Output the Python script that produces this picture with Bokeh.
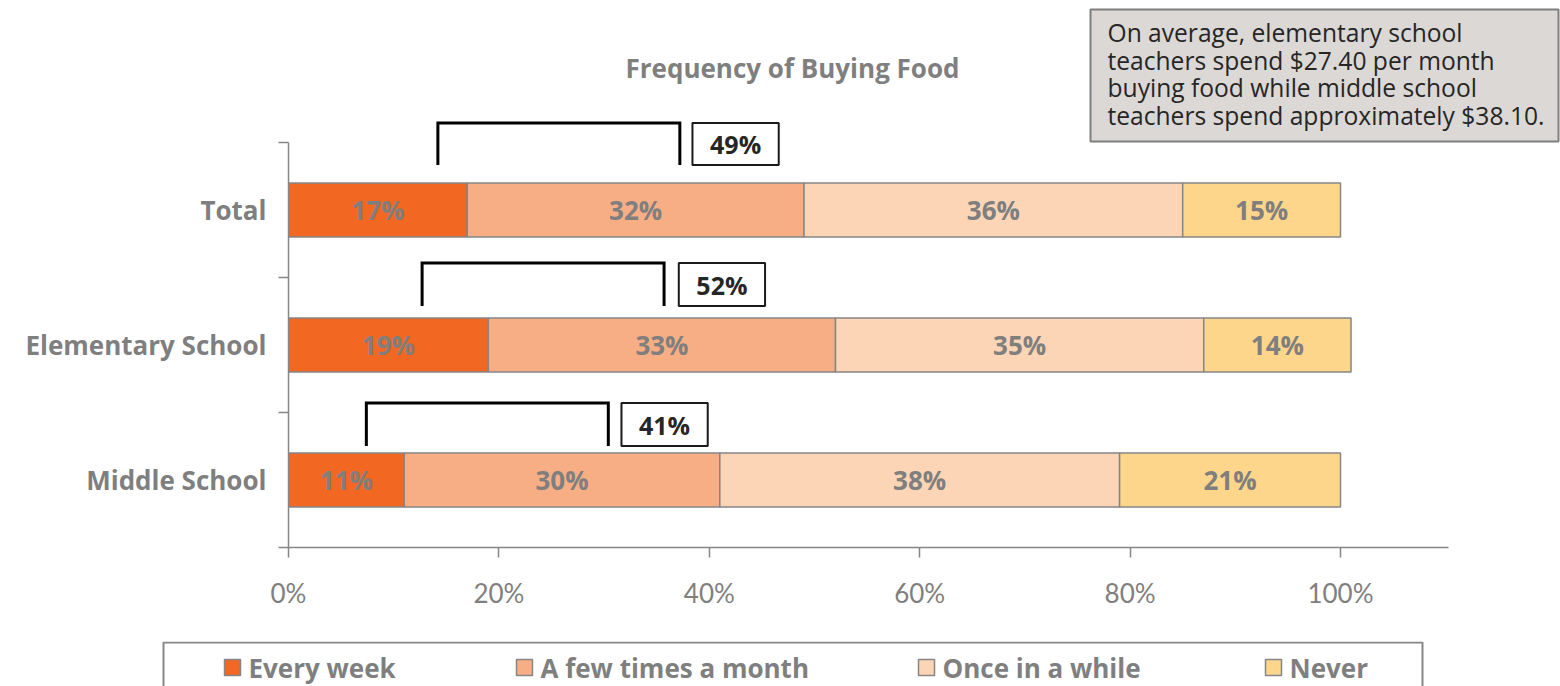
from bokeh.plotting import figure
from bokeh.layouts import column
from bokeh.models import ColumnDataSource, Range1d, FixedTicker, Label
from bokeh.core.properties import value
from bokeh.embed import file_html
from bokeh.resources import INLINE

# ---- data -------------------------------------------------------------
categories = ["Total", "Elementary School", "Middle School"]
every_week = [17, 19, 11]
few_times_month = [32, 33, 30]
once_in_a_while = [36, 35, 38]
never = [15, 14, 21]

series_keys = ["every_week", "few_times_month", "once_in_a_while", "never"]
series_names = ["Every week", "A few times a month", "Once in a while", "Never"]
series_colors = ["#F26722", "#F8AE84", "#FCD5B6", "#FDD68C"]

x_ticks = [0, 20, 40, 60, 80, 100]
x_tick_labels = ["0%", "20%", "40%", "60%", "80%", "100%"]

title_text = "Frequency of Buying Food"
note_lines = ["On average, elementary school",
              "teachers spend $27.40 per month",
              "buying food while middle school",
              "teachers spend approximately $38.10."]

# ---- page geometry ----------------------------------------------------
W = 1560
MAIN_H, LEGEND_H = 641, 45
FRAME_LEFT, FRAME_BOTTOM = 288, 547      # canvas px of the bar area
PX_PER_PCT = 10.52
PX_PER_ROW = 135

x_end = (W - FRAME_LEFT) / PX_PER_PCT
y_start = -0.5
y_end = y_start + FRAME_BOTTOM / PX_PER_ROW


def px_x(px):
    return (px - FRAME_LEFT) / PX_PER_PCT


def px_y(py):
    return y_start + (FRAME_BOTTOM - py) / PX_PER_ROW


GRAY = "#7F7F7F"
AXIS_GRAY = "#868686"
DARK = "#262626"
FONT = "Open Sans"
TICK_FONT = "Lato"

rows = list(range(len(categories)))[::-1]          # Total on top

src = ColumnDataSource(dict(
    y=rows, cat=categories,
    every_week=every_week, few_times_month=few_times_month,
    once_in_a_while=once_in_a_while, never=never,
))

p = figure(width=W, height=MAIN_H, output_backend="svg", toolbar_location=None,
           x_range=Range1d(0, x_end), y_range=Range1d(y_start, y_end),
           min_border_left=FRAME_LEFT, min_border_right=0, min_border_top=0,
           min_border_bottom=MAIN_H - FRAME_BOTTOM)
p.frame_align = False
p.outline_line_color = None
p.grid.visible = False
p.background_fill_color = "white"
p.border_fill_color = "white"

bars = p.hbar_stack(series_keys, y="y", height=0.4, color=series_colors,
                    source=src, line_color=AXIS_GRAY, line_width=1.5)

# value labels centred in each segment
lx, ly, lt = [], [], []
cols = [every_week, few_times_month, once_in_a_while, never]
for i, yv in enumerate(rows):
    start = 0
    for c in cols:
        v = c[i]
        lx.append(start + v / 2)
        ly.append(yv)
        lt.append(f"{v}%")
        start += v
p.text(x=lx, y=ly, text=lt, text_align="center", text_baseline="middle",
       text_font=value(FONT), text_font_style="bold", text_font_size="26px",
       text_color=GRAY)

# brackets over the first two segments with their combined share
bracket_left = [14.2, 12.7, 7.4]
bracket_right = [37.2, 35.7, 30.4]
bracket_top = [0.644, 0.607, 0.570]
bracket_foot = [0.333, 0.289, 0.252]
box_left = [38.4, 37.1, 31.65]
box_w = 8.2

bxs, bys = [], []
for i, yv in enumerate(rows):
    t = yv + bracket_top[i]
    f = yv + bracket_foot[i]
    bxs.append([bracket_left[i], bracket_left[i], bracket_right[i], bracket_right[i]])
    bys.append([f, t, t, f])
p.multi_line(xs=bxs, ys=bys, line_color="black", line_width=3, line_join="miter")

combined = [a + b for a, b in zip(every_week, few_times_month)]
p.quad(left=box_left, right=[b + box_w for b in box_left],
       top=[yv + bracket_top[i] for i, yv in enumerate(rows)],
       bottom=[yv + bracket_foot[i] for i, yv in enumerate(rows)],
       fill_color="white", line_color="#1a1a1a", line_width=2)
p.text(x=[b + box_w / 2 for b in box_left],
       y=[yv + (bracket_top[i] + bracket_foot[i]) / 2 for i, yv in enumerate(rows)],
       text=[f"{c}%" for c in combined], text_align="center", text_baseline="middle",
       text_font=value(FONT), text_font_style="bold", text_font_size="25px",
       text_color=DARK)

# axes
p.xaxis.ticker = FixedTicker(ticks=x_ticks)
p.xaxis.major_label_overrides = {t: s for t, s in zip(x_ticks, x_tick_labels)}
p.xaxis.bounds = (0, px_x(1448))
p.xaxis.axis_line_color = AXIS_GRAY
p.xaxis.axis_line_width = 1.5
p.xaxis.major_tick_line_color = AXIS_GRAY
p.xaxis.major_tick_line_width = 1.5
p.xaxis.major_tick_in = 0
p.xaxis.major_tick_out = 10
p.xaxis.minor_tick_line_color = None
p.xaxis.major_label_standoff = 19
p.xaxis.major_label_text_font = TICK_FONT
p.xaxis.major_label_text_font_size = "26px"
p.xaxis.major_label_text_color = GRAY

p.yaxis.ticker = FixedTicker(ticks=rows, minor_ticks=[-0.5, 0.5, 1.5, 2.5])
p.yaxis.major_label_overrides = {r: c for r, c in zip(rows, categories)}
p.yaxis.bounds = (-0.5, 2.5)
p.yaxis.axis_line_color = AXIS_GRAY
p.yaxis.axis_line_width = 1.5
p.yaxis.major_tick_line_color = None
p.yaxis.major_tick_in = 0
p.yaxis.major_tick_out = 0
p.yaxis.minor_tick_line_color = AXIS_GRAY
p.yaxis.minor_tick_line_width = 1.5
p.yaxis.minor_tick_in = 0
p.yaxis.minor_tick_out = 10
p.yaxis.major_label_standoff = 12
p.yaxis.major_label_text_font = FONT
p.yaxis.major_label_text_font_style = "bold"
p.yaxis.major_label_text_font_size = "26px"
p.yaxis.major_label_text_color = GRAY

# title
p.add_layout(Label(x=px_x(792), y=px_y(67), text=title_text, text_align="center",
                   text_baseline="middle", text_font=FONT, text_font_style="bold",
                   text_font_size="26px", text_color=GRAY))

# note box, top right
p.quad(left=[px_x(1090)], right=[px_x(1558)], top=[px_y(9)], bottom=[px_y(141)],
       fill_color="#DCD8D5", line_color="#7F7F7F", line_width=2)
note_rows_px = [32, 59.7, 87.4, 115.1]
p.text(x=[px_x(1107)] * len(note_lines), y=[px_y(v) for v in note_rows_px],
       text=note_lines, text_align="left", text_baseline="middle",
       text_font=value(FONT), text_font_size="24.6px", text_color=DARK)

# ---- legend strip under the chart -------------------------------------
lg = figure(width=W, height=LEGEND_H, output_backend="svg", toolbar_location=None,
            x_range=Range1d(0, W), y_range=Range1d(0, LEGEND_H),
            min_border=0, min_border_left=0, min_border_right=0,
            min_border_top=0, min_border_bottom=0)
lg.frame_align = False
lg.axis.visible = False
lg.grid.visible = False
lg.outline_line_color = None
lg.background_fill_color = "white"
lg.border_fill_color = "white"

lg.quad(left=[163], right=[1422], top=[LEGEND_H - 1], bottom=[-5],
        fill_color=None, line_color=AXIS_GRAY, line_width=2)
swatch_left = [224, 516, 918, 1265]
swatch = 16
mid = LEGEND_H - 26
lg.quad(left=swatch_left, right=[s + swatch for s in swatch_left],
        top=[mid + swatch / 2] * 4, bottom=[mid - swatch / 2] * 4,
        fill_color=series_colors, line_color=AXIS_GRAY, line_width=1.5)
lg.text(x=[s + swatch + 8 for s in swatch_left], y=[mid] * 4, text=series_names,
        text_align="left", text_baseline="middle", text_font=value(FONT),
        text_font_style="bold", text_font_size="26px", text_color=GRAY)

layout = column(p, lg, spacing=0)
open("out.html", "w").write(file_html(layout, INLINE))
